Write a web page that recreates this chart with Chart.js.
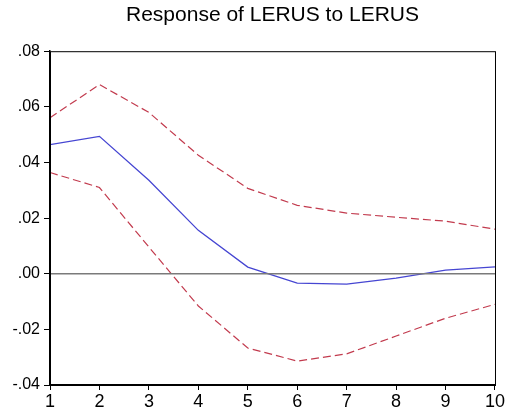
<!DOCTYPE html>
<html>
<head>
<meta charset="utf-8">
<script src="https://cdn.jsdelivr.net/npm/chart.js@4.4.7/dist/chart.umd.min.js"></script>
<style>
  html, body { margin: 0; padding: 0; background: #fff; }
  #wrap { width: 506px; height: 417px; }
</style>
</head>
<body>
<div id="wrap"><canvas id="c" width="506" height="417"></canvas></div>
<script>
const steps = [1, 2, 3, 4, 5, 6, 7, 8, 9, 10];
const response = [0.0464, 0.0494, 0.0336, 0.0156, 0.0024, -0.0034, -0.0037, -0.0016, 0.0013, 0.0025];
const upperBand = [0.0561, 0.0680, 0.0580, 0.0426, 0.0307, 0.0246, 0.0218, 0.0203, 0.0189, 0.0160];
const lowerBand = [0.0364, 0.0310, 0.0096, -0.0116, -0.0267, -0.0314, -0.0288, -0.0224, -0.0160, -0.0110];
const zeroLine = [0, 0, 0, 0, 0, 0, 0, 0, 0, 0];
const yTicks = [-0.04, -0.02, 0.00, 0.02, 0.04, 0.06, 0.08];

const FONT = 'Liberation Sans, Arial, sans-serif';

function points(vals) {
  return steps.map((s, i) => ({ x: s, y: vals[i] }));
}

function fmtTick(v) {
  const s = Math.abs(v).toFixed(2).replace(/^0/, '');
  return (v < -1e-9 ? '-' : '') + s;
}

// box around the plot area
const frame = {
  id: 'frame',
  afterDraw(chart) {
    const { ctx, chartArea: a } = chart;
    ctx.save();
    ctx.strokeStyle = '#000';
    ctx.lineWidth = 1;
    ctx.strokeRect(a.left + 0.5, a.top + 0.5, a.right - a.left, a.bottom - a.top);
    ctx.restore();
  }
};

new Chart(document.getElementById('c'), {
  type: 'line',
  data: {
    datasets: [
      {
        data: points(zeroLine),
        borderColor: '#7a7a7a',
        borderWidth: 1.5,
        pointRadius: 0,
        tension: 0,
      },
      {
        data: points(upperBand),
        borderColor: '#c23b4e',
        borderWidth: 1.2,
        borderDash: [8, 4],
        pointRadius: 0,
        tension: 0,
      },
      {
        data: points(lowerBand),
        borderColor: '#c23b4e',
        borderWidth: 1.2,
        borderDash: [8, 4],
        pointRadius: 0,
        tension: 0,
      },
      {
        data: points(response),
        borderColor: '#4646d2',
        borderWidth: 1.3,
        pointRadius: 0,
        tension: 0,
      },
    ],
  },
  options: {
    responsive: false,
    animation: false,
    layout: { padding: { left: 0, right: 10, top: 0, bottom: 0 } },
    plugins: {
      legend: { display: false },
      tooltip: { enabled: false },
      title: {
        display: true,
        fullSize: false,
        text: 'Response of LERUS to LERUS',
        color: '#000',
        font: { family: FONT, size: 21, weight: 'normal' },
        padding: { top: 3, bottom: 23 },
      },
    },
    scales: {
      x: {
        type: 'linear',
        min: 1,
        max: 10,
        afterFit(scale) { scale.height = 32; },
        ticks: {
          stepSize: 1,
          color: '#000',
          padding: 1,
          font: { family: FONT, size: 18 },
        },
        grid: {
          drawOnChartArea: false,
          drawTicks: true,
          tickLength: 5,
          color: '#000',
        },
        border: { display: true, color: '#000', width: 1.5 },
      },
      y: {
        min: -0.04,
        max: 0.08,
        afterFit(scale) { scale.width = 50; },
        afterBuildTicks(scale) { scale.ticks = yTicks.map(v => ({ value: v })); },
        ticks: {
          color: '#000',
          padding: 4,
          font: { family: FONT, size: 16 },
          callback: v => fmtTick(v),
        },
        grid: {
          drawOnChartArea: false,
          drawTicks: true,
          tickLength: 6,
          color: '#000',
        },
        border: { display: true, color: '#000', width: 1.5 },
      },
    },
  },
  plugins: [frame],
});
</script>
</body>
</html>
